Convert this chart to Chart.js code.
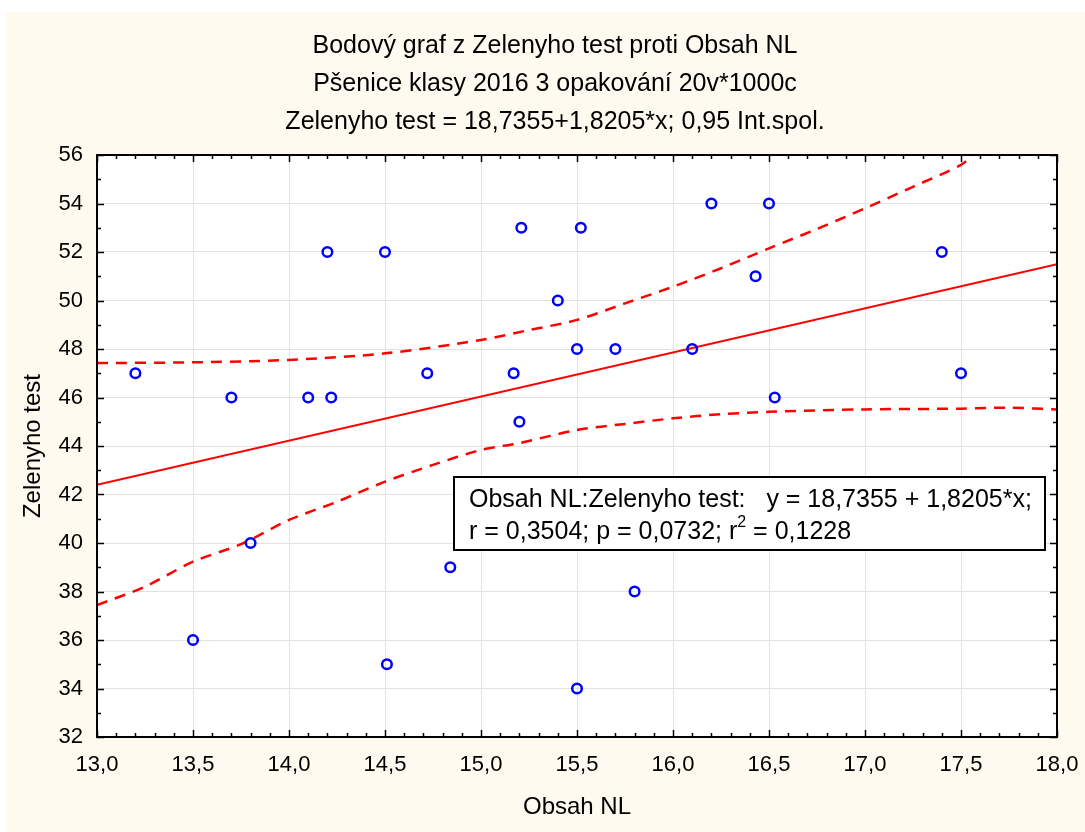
<!DOCTYPE html>
<html>
<head>
<meta charset="utf-8">
<script src="https://cdn.jsdelivr.net/npm/chart.js@4.4.1/dist/chart.umd.min.js"></script>
<style>
html,body{margin:0;padding:0;background:#ffffff;}
canvas{display:block;}
</style>
</head>
<body>
<canvas id="c" width="1085" height="832"></canvas>
<script>
// ---- data ----
const titleLines = [
  'Bodový graf z Zelenyho test proti Obsah NL',
  'Pšenice klasy 2016 3 opakování 20v*1000c',
  'Zelenyho test = 18,7355+1,8205*x; 0,95 Int.spol.'
];
const xTitle = 'Obsah NL';
const yTitle = 'Zelenyho test';
const xValues = [13.2, 13.5, 13.7, 13.8, 14.1, 14.2, 14.22, 14.5, 14.51, 14.72, 14.84, 15.17, 15.2, 15.21, 15.4, 15.5, 15.52, 15.5, 15.7, 15.8, 16.1, 16.2, 16.43, 16.5, 16.53, 17.4, 17.5];
const yValues = [47, 36, 46, 40, 46, 52, 46, 52, 35, 47, 39, 47, 45, 53, 50, 48, 53, 34, 48, 38, 48, 54, 51, 54, 46, 52, 47];
const fitX = [13.0, 18.0];
const fitY = [42.4, 51.5];
const upperX = [13.0, 13.5, 14.0, 14.5, 15.0, 15.25, 15.5, 15.75, 16.0, 16.25, 16.5, 16.75, 17.0, 17.25, 17.5, 17.56];
const upperY = [47.42, 47.45, 47.55, 47.82, 48.37, 48.78, 49.2, 49.88, 50.57, 51.33, 52.15, 52.95, 53.8, 54.69, 55.59, 56.0];
const lowerX = [13.0, 13.25, 13.5, 13.75, 14.0, 14.25, 14.5, 14.75, 15.0, 15.2, 15.5, 15.75, 16.0, 16.25, 16.5, 17.0, 17.5, 17.75, 18.0];
const lowerY = [37.44, 38.2, 39.23, 39.95, 40.95, 41.7, 42.53, 43.22, 43.84, 44.12, 44.66, 44.91, 45.14, 45.31, 45.41, 45.51, 45.54, 45.58, 45.51];
const xRange = [13, 18], xStep = 0.5, xMinor = 0.1;
const yRange = [32, 56], yStep = 2, yMinor = 1;
const legendLine1 = 'Obsah NL:Zelenyho test:   y = 18,7355 + 1,8205*x;';
const legendLine2a = 'r = 0,3504; p = 0,0732; r';
const legendSup = '2';
const legendLine2b = ' = 0,1228';

// ---- helpers ----
const FF = '"Liberation Sans", Arial, sans-serif';
const pts = (xs, ys) => xs.map((x, i) => ({x: x, y: ys[i]}));
const fmt = v => v.toFixed(1).replace('.', ',');

const decor = {
  id: 'decor',
  beforeDraw(chart) {
    const c = chart.ctx;
    c.save();
    c.fillStyle = '#ffffff';
    c.fillRect(0, 0, chart.width, chart.height);
    c.fillStyle = '#FFFAEF';
    c.fillRect(6, 12, chart.width - 6, chart.height - 12);
    const a = chart.chartArea;
    c.fillStyle = '#ffffff';
    c.fillRect(a.left, a.top, a.right - a.left, a.bottom - a.top);
    c.restore();
  },
  afterDraw(chart) {
    const c = chart.ctx;
    const a = chart.chartArea;
    const xs = chart.scales.x, ys = chart.scales.y;
    c.save();
    // border
    c.strokeStyle = '#000';
    c.lineWidth = 2;
    c.strokeRect(a.left, a.top, a.right - a.left, a.bottom - a.top);
    // inward ticks
    c.lineWidth = 1.5;
    c.beginPath();
    const nx = Math.round((xRange[1] - xRange[0]) / xMinor);
    for (let i = 0; i <= nx; i++) {
      const v = xRange[0] + i * xMinor;
      const major = Math.abs(v / xStep - Math.round(v / xStep)) < 1e-6;
      const L = major ? 7 : 4;
      const px = Math.round(xs.getPixelForValue(v)) + 0.5;
      c.moveTo(px, a.bottom); c.lineTo(px, a.bottom - L);
      c.moveTo(px, a.top); c.lineTo(px, a.top + L);
    }
    const ny = Math.round((yRange[1] - yRange[0]) / yMinor);
    for (let i = 0; i <= ny; i++) {
      const v = yRange[0] + i * yMinor;
      const major = Math.abs(v / yStep - Math.round(v / yStep)) < 1e-6;
      const L = major ? 7 : 4;
      const py = Math.round(ys.getPixelForValue(v)) + 0.5;
      c.moveTo(a.left, py); c.lineTo(a.left + L, py);
      c.moveTo(a.right, py); c.lineTo(a.right - L, py);
    }
    c.stroke();
    // titles
    c.fillStyle = '#000';
    c.font = '25px ' + FF;
    c.textAlign = 'center';
    c.textBaseline = 'middle';
    const ty = [46, 84, 122];
    titleLines.forEach((t, i) => c.fillText(t, 555, ty[i]));
    // legend box
    const bx = 454, by = 477, bw = 591, bh = 73;
    c.fillStyle = '#fff';
    c.fillRect(bx, by, bw, bh);
    c.lineWidth = 2;
    c.strokeStyle = '#000';
    c.strokeRect(bx, by, bw, bh);
    c.fillStyle = '#000';
    c.textAlign = 'left';
    c.textBaseline = 'alphabetic';
    c.font = '25px ' + FF;
    c.fillText(legendLine1, 469, 507);
    c.fillText(legendLine2a, 469, 539);
    let w = c.measureText(legendLine2a).width;
    c.font = '16px ' + FF;
    c.fillText(legendSup, 469 + w, 527);
    const w2 = c.measureText(legendSup).width;
    c.font = '25px ' + FF;
    c.fillText(legendLine2b, 469 + w + w2, 539);
    c.restore();
  }
};

new Chart(document.getElementById('c'), {
  type: 'scatter',
  data: {
    datasets: [
      {
        label: 'data', data: pts(xValues, yValues), showLine: false,
        pointRadius: 4.8, pointBorderWidth: 2.5, pointBorderColor: '#0000ff',
        pointBackgroundColor: 'rgba(0,0,0,0)', order: 0
      },
      {
        label: 'fit', data: pts(fitX, fitY), showLine: true, borderColor: '#ff0000',
        borderWidth: 2, pointRadius: 0, fill: false, order: 1
      },
      {
        label: 'upper', data: pts(upperX, upperY), showLine: true, borderColor: '#ff0000',
        borderWidth: 2.5, borderDash: [11, 8], pointRadius: 0, fill: false, tension: 0.3, order: 2
      },
      {
        label: 'lower', data: pts(lowerX, lowerY), showLine: true, borderColor: '#ff0000',
        borderWidth: 2.5, borderDash: [11, 8], pointRadius: 0, fill: false, tension: 0.3, order: 3
      }
    ]
  },
  options: {
    responsive: false,
    animation: false,
    events: [],
    layout: {padding: {left: 0, top: 155, right: 28, bottom: 0}},
    plugins: {legend: {display: false}, tooltip: {enabled: false}, title: {display: false}},
    scales: {
      x: {
        type: 'linear', min: xRange[0], max: xRange[1],
        ticks: {stepSize: xStep, callback: v => fmt(v), font: {family: FF, size: 22}, color: '#000', padding: 15, maxRotation: 0, autoSkip: false},
        grid: {color: '#e2e2e2', lineWidth: 1, drawTicks: false},
        border: {display: false},
        title: {display: true, text: xTitle, color: '#000', font: {family: FF, size: 24}, padding: {top: 0, bottom: 10}},
        afterFit(s) { s.height = 95; s.paddingLeft = 0; s.paddingRight = 0; }
      },
      y: {
        type: 'linear', min: yRange[0], max: yRange[1],
        ticks: {stepSize: yStep, callback: v => String(v), font: {family: FF, size: 22}, color: '#000', padding: 14, autoSkip: false},
        grid: {color: '#e2e2e2', lineWidth: 1, drawTicks: false},
        border: {display: false},
        title: {display: true, text: yTitle, color: '#000', font: {family: FF, size: 24}, padding: {top: 19, bottom: 0}},
        afterFit(s) { s.width = 97; s.paddingTop = 0; s.paddingBottom = 0; }
      }
    }
  },
  plugins: [decor]
});
</script>
</body>
</html>
